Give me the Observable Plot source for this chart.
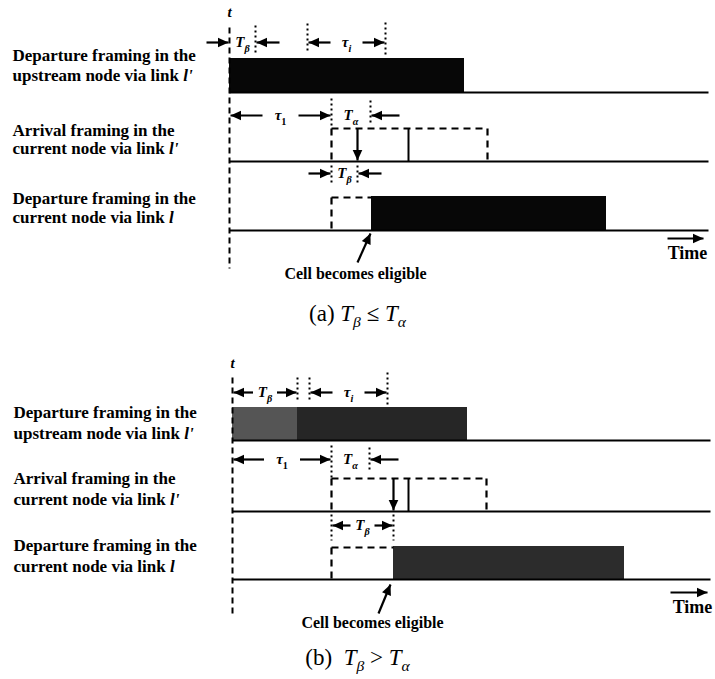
<!DOCTYPE html>
<html><head><meta charset="utf-8">
<script src="https://cdn.jsdelivr.net/npm/d3@7"></script>
<script src="https://cdn.jsdelivr.net/npm/@observablehq/plot@0.6"></script>
<style>body{margin:0;background:#fff} svg{display:block}</style>
</head><body><div id="chart"></div>
<script>
// ---------- content ----------
const panels = ["a", "b"];
const rowLabels = [
  ["Departure framing in the", "upstream node via link ~l'"],
  ["Arrival framing in the", "current node via link ~l'"],
  ["Departure framing in the", "current node via link ~l"]
];
const captions = ["(a) T_β ≤ T_α", "(b)\u00A0 T_β > T_α"];
const eligibleLabel = "Cell becomes eligible";
const timeLabel = "Time";
const tLabel = "~t";
const dimLabels = { tb: "T_β", ti: "τ_i", t1: "τ_1", ta: "T_α" };

// ---------- event times, measured from t (one unit ≈ a tenth of τ1) ----------
const tBeta        = [2.6, 6.5];
const tauIStart    = [7.8, 7.7];
const tauIEnd      = [15.6, 15.5];
const upstreamEnd  = [23.5, 23.5];
const tau1         = [10.2, 9.9];
const tAlphaEnd    = [14.1, 13.7];
const arrivalCell  = [12.8, 16.1];
const arrivalFrame = [17.9, 17.6];
const arrivalEnd   = [25.8, 25.4];
const departStart  = [14.2, 16.1];
const departEnd    = [37.7, 39.2];

// ---------- layout (pixels vertically, time units horizontally) ----------
const W = 715, H = 679, PX = 10; // 10 px per time unit
const L = [
  { x0: 0, lx: -21.7, lab: [[55, 75], [130, 148], [198, 217]], tLab: 12, tTop: 27, tBot: 268,
    a1: 42, d1: [[25, 52], [23, 50], [22, 55]], bar1: [58, 92],
    a2: 115, d2: [[98, 128], [100, 124]], r2Top: 128, b2: 161,
    a3: 173, d3: [165, 182], r3Top: 197, bar3: [196, 230],
    end: 47.9, timeArrow: [43.8, 47.4, 238], timeText: [45.8, 253],
    elig: [12.6, 273], eligArrow: [12.8, 262, 14.1, 233], cap: [12.8, 313], tbStyle: "out",
    fillA: "#070707", fillB: "#070707", fill3: "#070707" },
  { x0: 0.3, lx: -21.6, lab: [[412, 433], [478, 499], [545, 566]], tLab: 363, tTop: 377, tBot: 617,
    a1: 392, d1: [[377, 402], [377, 402], [372, 405]], bar1: [407, 440],
    a2: 459, d2: [[445, 478], [447, 470]], r2Top: 478, b2: 511,
    a3: 525, d3: [514, 540], r3Top: 547, bar3: [546, 579],
    end: 47.8, timeArrow: [43.8, 47.5, 592], timeText: [46.0, 607],
    elig: [14.0, 622], eligArrow: [14.6, 613, 15.8, 584], cap: [12.5, 657], tbStyle: "in",
    fillA: "#555555", fillB: "#262626", fill3: "#2c2c2c" }
];

const rects = [], solid = [], dashed = [], tdash = [], dotted = [], arrows = [];
const rowText = [], annText = [], tText = [], timeText = [], eligText = [], capText = [];

function arrow(x1, y1, x2, y2) {
  arrows.push({ x1, y1, x2, y2, angle: Math.atan2(y2 - y1, (x2 - x1) * PX) * 180 / Math.PI });
}
function dim(from, to, y, style, half, label) {
  const mid = (from + to) / 2, g = 0.1;
  if (style === "in") { arrow(mid - half, y, from + g, y); arrow(mid + half, y, to - g, y); }
  else if (style === "out") { arrow(from - 2.3, y, from - g, y); arrow(to + 2.4, y, to + g, y); }
  else if (style === "outR") { arrow(to + 2.9, y, to + g, y); }
  annText.push({ x: mid, y, text: label });
}

panels.forEach((id, p) => {
  const l = L[p], s = v => v + l.x0;
  rowLabels.forEach((lines, r) => lines.forEach((t, k) => rowText.push({ x: l.lx, y: l.lab[r][k], text: t })));
  tdash.push({ x1: s(0), x2: s(0), y1: l.tTop, y2: l.tBot });
  tText.push({ x: s(0), y: l.tLab, text: tLabel });
  // row 1: upstream departure
  rects.push({ x1: s(0), x2: s(tBeta[p]), y1: l.bar1[0], y2: l.bar1[1], fill: l.fillA });
  rects.push({ x1: s(tBeta[p]), x2: s(upstreamEnd[p]), y1: l.bar1[0], y2: l.bar1[1], fill: l.fillB });
  solid.push({ x1: s(0), x2: s(l.end), y1: l.bar1[1], y2: l.bar1[1] });
  [tBeta[p], tauIStart[p], tauIEnd[p]].forEach((v, k) => dotted.push({ x1: s(v), x2: s(v), y1: l.d1[k][0], y2: l.d1[k][1] }));
  dim(s(0), s(tBeta[p]), l.a1, l.tbStyle, 1.2, dimLabels.tb);
  dim(s(tauIStart[p]), s(tauIEnd[p]), l.a1, "in", 1.6, dimLabels.ti);
  // row 2: arrival
  dim(s(0), s(tau1[p]), l.a2, "in", 1.8, dimLabels.t1);
  dim(s(tau1[p]), s(tAlphaEnd[p]), l.a2, "outR", 0, dimLabels.ta);
  [tau1[p], tAlphaEnd[p]].forEach((v, k) => dotted.push({ x1: s(v), x2: s(v), y1: l.d2[k][0], y2: l.d2[k][1] }));
  dashed.push({ x1: s(tau1[p]), x2: s(tau1[p]), y1: l.r2Top, y2: l.b2 });
  dashed.push({ x1: s(tau1[p]), x2: s(arrivalEnd[p]), y1: l.r2Top, y2: l.r2Top });
  dashed.push({ x1: s(arrivalEnd[p]), x2: s(arrivalEnd[p]), y1: l.r2Top, y2: l.b2 });
  solid.push({ x1: s(arrivalFrame[p]), x2: s(arrivalFrame[p]), y1: l.r2Top, y2: l.b2 });
  solid.push({ x1: s(0), x2: s(l.end), y1: l.b2, y2: l.b2 });
  arrow(s(arrivalCell[p]), l.r2Top, s(arrivalCell[p]), l.b2 - 1);
  // row 3: current departure
  dim(s(tau1[p]), s(arrivalCell[p]), l.a3, l.tbStyle, 1.2, dimLabels.tb);
  [tau1[p], arrivalCell[p]].forEach(v => dotted.push({ x1: s(v), x2: s(v), y1: l.d3[0], y2: l.d3[1] }));
  dashed.push({ x1: s(tau1[p]), x2: s(tau1[p]), y1: l.r3Top, y2: l.bar3[1] });
  dashed.push({ x1: s(tau1[p]), x2: s(departStart[p]), y1: l.r3Top, y2: l.r3Top });
  rects.push({ x1: s(departStart[p]), x2: s(departEnd[p]), y1: l.bar3[0], y2: l.bar3[1], fill: l.fill3 });
  solid.push({ x1: s(0), x2: s(l.end), y1: l.bar3[1], y2: l.bar3[1] });
  // time axis arrow & label
  arrow(s(l.timeArrow[0]), l.timeArrow[2], s(l.timeArrow[1]), l.timeArrow[2]);
  timeText.push({ x: s(l.timeText[0]), y: l.timeText[1], text: timeLabel });
  // eligibility
  arrow(s(l.eligArrow[0]), l.eligArrow[1], s(l.eligArrow[2]), l.eligArrow[3]);
  eligText.push({ x: s(l.elig[0]), y: l.elig[1], text: eligibleLabel });
  capText.push({ x: s(l.cap[0]), y: l.cap[1], text: captions[p] });
});

const head = { draw(ctx) { ctx.moveTo(0, 0); ctx.lineTo(-10.5, -4.8); ctx.lineTo(-10.5, 4.8); ctx.closePath(); } };
const lk = { x1: "x1", x2: "x2", y1: "y1", y2: "y2", stroke: "black" };
const txt = { x: "x", y: "y", text: "text", fill: "black" };

const plot = Plot.plot({
  width: W, height: H, margin: 0,
  x: { domain: [-22.9, 48.6], range: [0, W], axis: null },
  y: { domain: [0, H], range: [0, H], axis: null },
  style: { fontFamily: "'Liberation Serif', 'DejaVu Serif', serif", background: "white", color: "black" },
  marks: [
    Plot.rect(rects, { x1: "x1", x2: "x2", y1: "y1", y2: "y2", fill: d => d.fill }),
    Plot.link(solid, { ...lk, strokeWidth: 2 }),
    Plot.link(tdash, { ...lk, strokeWidth: 2, strokeDasharray: "6,4" }),
    Plot.link(dashed, { ...lk, strokeWidth: 2.2, strokeDasharray: "7,5" }),
    Plot.link(dotted, { ...lk, strokeWidth: 2, strokeDasharray: "2,3" }),
    Plot.link(arrows, { ...lk, strokeWidth: 2.2 }),
    Plot.dot(arrows, { x: "x2", y: "y2", rotate: "angle", symbol: head, fill: "black", stroke: "none" }),
    Plot.text(rowText, { ...txt, textAnchor: "start", fontSize: 17, fontWeight: "bold" }),
    Plot.text(annText, { ...txt, fontSize: 15, fontWeight: "bold" }),
    Plot.text(tText, { ...txt, fontSize: 15, fontWeight: "bold" }),
    Plot.text(timeText, { ...txt, fontSize: 18, fontWeight: "bold" }),
    Plot.text(eligText, { ...txt, fontSize: 16, fontWeight: "bold" }),
    Plot.text(capText, { ...txt, fontSize: 23 })
  ]
});

// rich text: X_y -> italic X with subscript y ; ~word -> italic word
function richify(svg) {
  const ns = "http://www.w3.org/2000/svg";
  for (const t of svg.querySelectorAll("text")) {
    if (t.querySelector("tspan")) continue;
    const s = t.textContent;
    if (!/[_~]/.test(s)) continue;
    const g = t.closest("[font-size]");
    const fs = g ? parseFloat(g.getAttribute("font-size")) : 12;
    t.textContent = "";
    let cur = 0;
    const add = (str, italic, sub) => {
      const e = document.createElementNS(ns, "tspan");
      e.textContent = str;
      if (italic) e.setAttribute("font-style", "italic");
      const want = sub ? fs * 0.28 : 0;
      if (want !== cur) { e.setAttribute("dy", (want - cur).toFixed(2)); cur = want; }
      if (sub) e.setAttribute("font-size", (fs * 0.68).toFixed(1));
      t.appendChild(e);
    };
    for (const part of s.split(/(\S_\S|~\S+)/)) {
      if (!part) continue;
      if (/^\S_\S$/.test(part)) { add(part[0], true, false); add(part[2], !/\d/.test(part[2]), true); }
      else if (part[0] === "~") add(part.slice(1), true, false);
      else add(part, false, false);
    }
  }
}
richify(plot);
document.getElementById("chart").appendChild(plot);
</script>
</body></html>
